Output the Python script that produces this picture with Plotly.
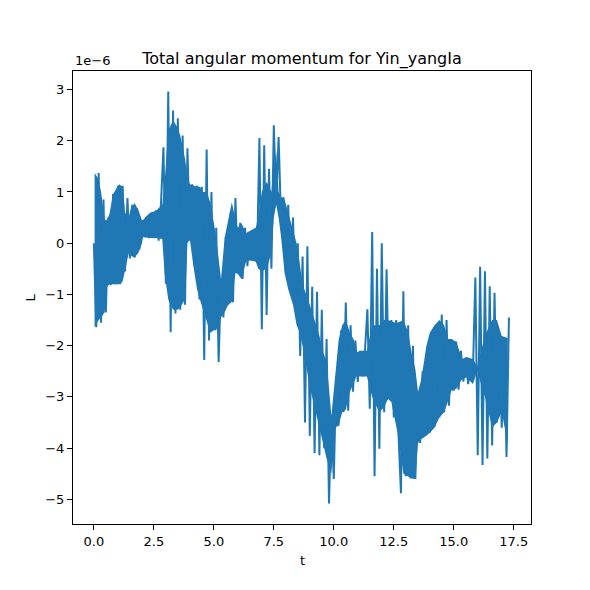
import plotly.graph_objects as go

# total angular momentum L (units of 1e-6), one reading every 0.1 in t
dt = 0.1
L_start = [0.0, -1.64, 1.37, -1.55, 0.85, -1.35, 0.5, -0.82, 0.96, -0.8,
           1.12, -0.8, 1.12, -0.55, 0.88, -0.3, 0.75, -0.28, 0.68, -0.12,
           0.45, 0.12, 0.52, 0.1, 0.6, 0.1, 0.64, 0.05, 0.8, 1.87,
           -0.79, 2.96, -1.74, 2.59, -1.37, 2.44, -1.3, 2.1, -1.2, 1.85]
L_early = [0.05, 1.15, -0.45, 1.12, -1.1, 1.1, -2.28, 1.83, -1.9, 1.0,
           -1.6, 0.3, -2.32, -0.7, -1.45, 0.13, -1.2, 0.6, -1.15, 0.88,
           -0.55, 0.4, -0.7, 0.3, -0.45, 0.22, -0.34, 0.28, -0.36, 2.05,
           -1.68, 1.91, -1.4, 1.45, -0.5, 2.3, 0.75, 2.07, 0.45, 0.9]
L_mid = [-0.58, 0.75, -0.9, 0.5, -1.2, 0.0, -2.2, -0.26, -3.5, -0.06,
         -3.76, -0.85, -4.1, -0.95, -4.14, -1.3, -4.0, -1.87, -5.08, -3.37,
         -4.6, -2.6, -3.56, -1.7, -3.3, -1.16, -3.27, -1.6, -2.9, -1.9,
         -2.71, -2.1, -2.6, -2.1, -1.29, -3.23, 0.22, -4.55, -0.5, -4.01]
L_late = [0.0, -3.3, -0.51, -3.0, -1.5, -3.4, -1.5, -3.76, -4.88, -0.94,
          -4.55, -1.6, -4.59, -2.0, -4.6, -2.9, -3.9, -2.5, -3.76, -2.1,
          -3.7, -1.75, -3.58, -1.6, -3.4, -1.39, -3.3, -1.5, -3.17]
L_end = [-1.87, -2.88, -1.92, -2.86, -2.1, -2.7, -2.24, -2.75, -2.35, -2.5,
         -0.67, -4.14, -0.46, -4.33, -0.55, -4.2, -0.84, -3.95, -0.97, -3.5,
         -1.81, -3.6, -1.85, -4.17, -1.45]

L = L_start + L_early + L_mid + L_late + L_end
t = [round(i * dt, 1) for i in range(len(L))]

# edges of the dense fast oscillation band (spikes left out)
band_t = [0.03, 0.2, 0.3, 0.45, 0.55, 0.65, 0.8, 1.05, 1.2, 1.3, 1.45, 1.55, 1.7, 1.85,
          2.0, 2.05, 2.3, 2.6, 2.85, 2.95, 3.1, 3.3, 3.5, 3.6, 3.8, 3.9, 4.0, 4.15,
          4.3, 4.42, 4.55, 4.7, 4.85, 5.0, 5.1, 5.3, 5.45, 5.6, 5.75, 5.9, 6.0, 6.15,
          6.35, 6.55, 6.75, 6.85, 7.0, 7.2, 7.4, 7.5, 7.6, 7.7, 7.8, 7.95, 8.1, 8.3,
          8.45, 8.55, 8.7, 9.0, 9.4, 9.55, 9.7, 9.9, 10.05, 10.2, 10.35, 10.5, 10.67,
          10.85, 10.95, 11.15, 11.38, 11.6, 11.9, 12.1, 12.26, 12.4, 12.54, 12.68,
          12.9, 13.1, 13.24, 13.4, 13.51, 13.65, 13.86, 14.0, 14.2, 14.4, 14.6,
          14.75, 14.9, 15.11, 15.35, 15.53, 15.8, 15.98, 16.3, 16.6, 16.8, 17.0,
          17.25]
band_hi = [1.37, 1.25, 1.0, 0.45, 0.45, 0.57, 0.96, 1.15, 1.1, 0.6, 0.5, 0.7, 0.78, 0.65,
           0.45, 0.45, 0.58, 0.64, 0.75, 1.2, 2.2, 2.4, 2.25, 2.1, 1.65, 1.3, 1.15, 1.12,
           1.1, 1.1, 1.0, 1.0, 0.8, 0.4, 0.1, -0.7, 0.1, 0.45, 0.8, 0.46, 0.3, 0.39,
           0.2, 0.25, 0.3, 0.5, 1.0, 1.2, 1.0, 1.5, 1.8, 1.0, 0.9, 0.85, 0.6, 0.26,
           0.0, -0.3, -0.8, -1.2, -1.8, -2.13, -2.3, -3.37, -2.6, -1.9, -1.6, -1.5, -1.74,
           -1.9, -2.13, -2.1, -2.1, -1.6, -1.6, -1.5, -1.5, -1.52, -1.55, -1.55,
           -1.5, -1.74, -2.13, -2.46, -2.9, -2.65, -2.0, -1.75, -1.6, -1.5, -1.6,
           -1.87, -1.87, -1.93, -2.26, -2.22, -2.26, -2.4, -1.8, -1.5, -1.5, -1.81,
           -1.85]
band_lo = [-1.64, -1.5, -1.45, -1.35, -0.85, -0.8, -0.8, -0.8, -0.75, -0.5, -0.2, -0.25, -0.28, -0.19,
           -0.01, 0.12, 0.1, 0.1, 0.08, -0.6, -1.1, -1.3, -1.3, -1.25, -1.1, 0.0, 0.07, -0.45,
           -0.9, -1.1, -1.3, -1.5, -1.75, -1.7, -1.7, -1.45, -1.35, -1.2, -1.15, -0.58, -0.6, -0.7,
           -0.35, -0.34, -0.36, -0.5, -0.55, -0.5, -0.2, 0.5, 0.75, 0.5, 0.13, -0.58, -0.9, -1.2,
           -1.6, -1.7, -2.0, -2.8, -3.6, -3.9, -4.2, -4.5, -3.6, -3.56, -3.3, -3.25, -2.9,
           -2.71, -2.59, -2.6, -2.6, -3.0, -3.3, -3.2, -3.04, -3.1, -3.4, -3.76,
           -4.5, -4.55, -4.59, -4.6, -3.9, -3.82, -3.76, -3.7, -3.6, -3.4, -3.3,
           -3.1, -2.88, -2.84, -2.65, -2.62, -2.75, -2.5, -3.0, -3.6, -3.5, -3.3,
           -3.9]

blue = '#1f77b4'
fig = go.Figure()
fig.add_trace(go.Scatter(x=band_t, y=band_lo, mode='lines', line=dict(width=0, color=blue),
                         hoverinfo='skip'))
fig.add_trace(go.Scatter(x=band_t, y=band_hi, mode='lines', line=dict(width=0, color=blue),
                         fill='tonexty', fillcolor=blue, hoverinfo='skip'))
fig.add_trace(go.Scatter(x=t, y=L, mode='lines', line=dict(color=blue, width=2)))

axis_style = dict(showgrid=False, zeroline=False, showline=True, linecolor='black',
                  linewidth=1, mirror=True, ticks='outside', ticklen=5, tickwidth=1,
                  tickcolor='black')
fig.update_layout(
    width=582, height=582,
    paper_bgcolor='white', plot_bgcolor='white',
    font=dict(family='DejaVu Sans', size=13, color='black'),
    margin=dict(l=65, r=59, t=63, b=66),
    showlegend=False,
    title=dict(text='Total angular momentum for Yin_yangIa', x=0.5, xref='paper',
               y=1 - 50 / 582, yref='container', xanchor='center', yanchor='middle',
               font=dict(size=16)),
    xaxis=dict(range=[-0.87, 18.22], tickvals=[0, 2.5, 5, 7.5, 10, 12.5, 15, 17.5],
               tickformat='.1f', **axis_style),
    yaxis=dict(range=[-5.48, 3.36], dtick=1, **axis_style),
    annotations=[
        dict(text='1e\u22126', xref='paper', yref='paper', x=0, y=1, xanchor='left',
             yanchor='bottom', yshift=1, showarrow=False),
        dict(text='t', xref='paper', yref='paper', x=0.5, y=0, yshift=-36,
             xanchor='center', yanchor='middle', showarrow=False),
        dict(text='L', xref='paper', yref='paper', x=0, y=0.5, xshift=-43,
             xanchor='center', yanchor='middle', textangle=-90, showarrow=False),
    ],
)

fig.write_html("out.html")
